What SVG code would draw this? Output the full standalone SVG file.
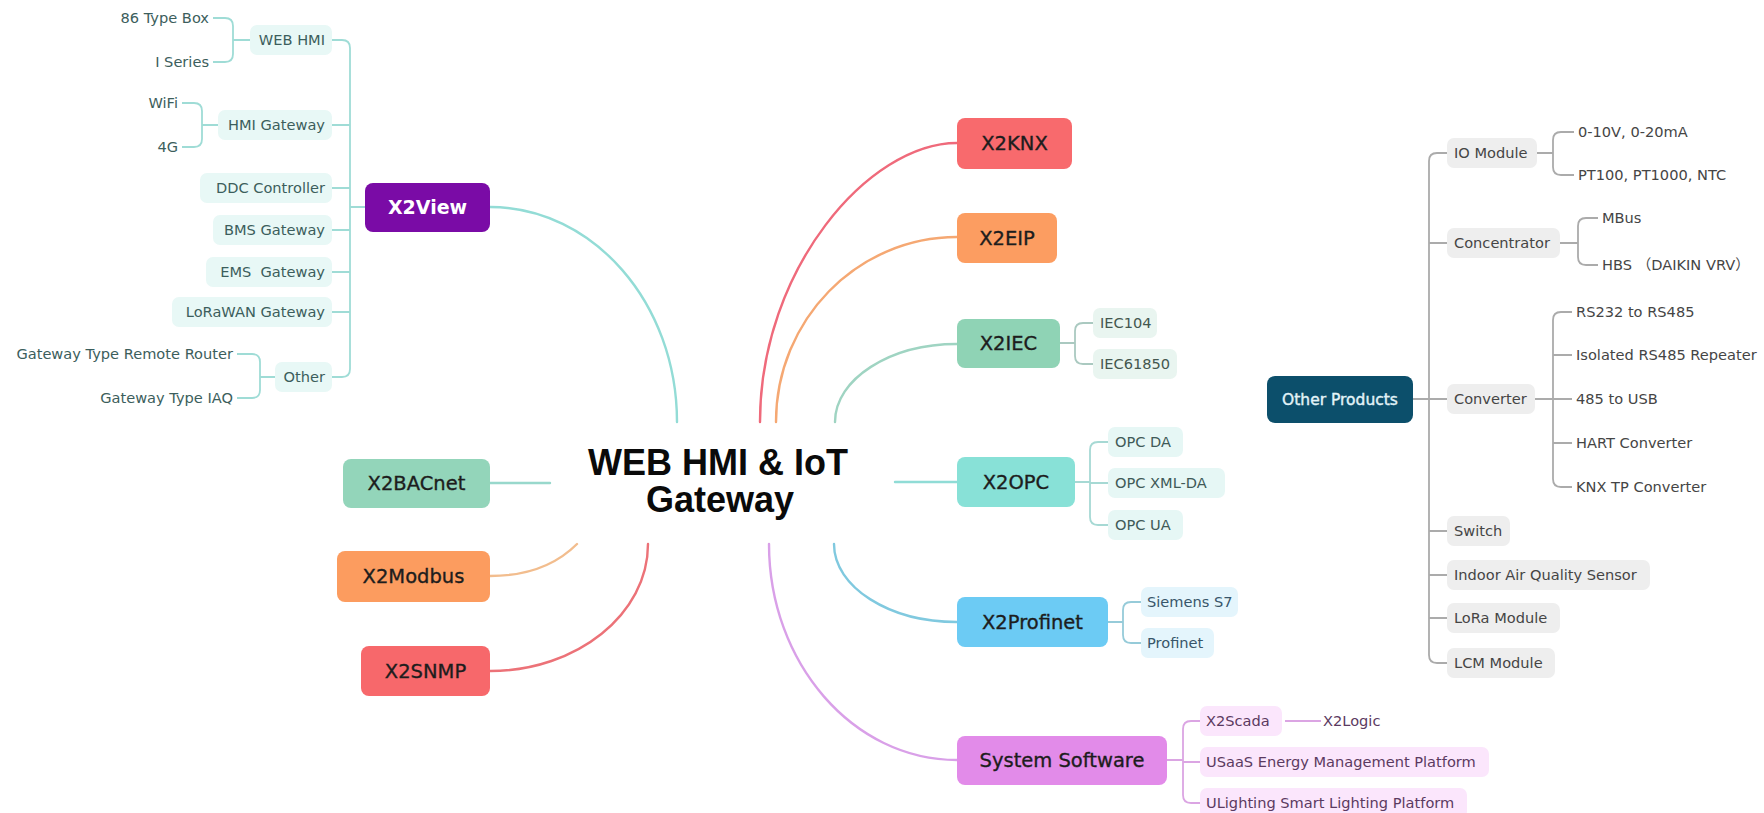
<svg xmlns="http://www.w3.org/2000/svg" width="1764" height="813" viewBox="0 0 1764 813">
<style>
text{font-family:"DejaVu Sans","Noto Sans CJK SC",sans-serif;}
.t{font-size:19.5px;fill:#1d1d1d;stroke:#1d1d1d;stroke-width:0.35;text-anchor:middle;}
.s{font-size:14.6px;white-space:pre;}
.c{fill:none;stroke-width:2.4;stroke-linecap:round;}
.b{fill:none;stroke-width:1.8;stroke-linejoin:round;}
.title{font-family:"Liberation Sans",Arial,sans-serif;font-weight:bold;font-size:36px;fill:#0a0a0a;text-anchor:middle;}
.vw rect{fill:#e8f8f6;} .vw text{fill:#3c5e5c;}
.ie rect{fill:#e9f5f0;} .ie text{fill:#44574f;}
.op rect{fill:#e6f7f5;} .op text{fill:#405a58;}
.pf rect{fill:#e4f5fc;} .pf text{fill:#38566a;}
.ss rect{fill:#fbe6fc;} .ss text{fill:#5b3a61;}
.ot rect{fill:#eeeeee;} .ot text{fill:#454545;}
</style>

<g id="connectors">
  <path class="c" stroke="#93dcd6" d="M490,207 C593,207 677,303 677,422"/>
  <path class="c" stroke="#ef6a7b" d="M760,422 C760,269 869,143 957,143"/>
  <path class="c" stroke="#f5a873" d="M776,422 C776,320 857,237 957,237"/>
  <path class="c" stroke="#9fd4c2" d="M835,422 C835,379 890,344 957,344"/>
  <path class="c" stroke="#90dcd6" d="M895,482 H957"/>
  <path class="c" stroke="#80c9df" d="M834,544 C834,587 889,622 957,622"/>
  <path class="c" stroke="#d9a0e8" d="M769,544 C769,663 853,760 957,760"/>
  <path class="c" stroke="#98d8cc" d="M490,483 H550"/>
  <path class="c" stroke="#f2bd8e" d="M490,576 Q545,576 577,544"/>
  <path class="c" stroke="#ec7278" d="M490,671 C577,671 648,614 648,544"/>

  <g stroke="#9fdcd6" class="b">
    <path d="M332,40 H342 Q350,40 350,48 V369 Q350,377 342,377 H332"/>
    <path d="M332,125 H350 M332,188 H350 M332,230 H350 M332,272 H350 M332,312 H350 M350,207 H365"/>
    <path d="M213,18 H225 Q233,18 233,26 V54 Q233,62 225,62 H213 M233,40 H250"/>
    <path d="M182,103 H194 Q202,103 202,111 V139 Q202,147 194,147 H182 M202,125 H218"/>
    <path d="M237,354 H252 Q260,354 260,362 V390 Q260,398 252,398 H237 M260,377 H275"/>
  </g>
  <g stroke="#aac9c0" class="b">
    <path d="M1060,343 H1075 M1093,323 H1083 Q1075,323 1075,331 V356 Q1075,364 1083,364 H1093"/>
  </g>
  <g stroke="#a6d9d4" class="b">
    <path d="M1075,482 H1090 M1108,442 H1098 Q1090,442 1090,450 V517 Q1090,525 1098,525 H1108 M1090,483 H1108"/>
  </g>
  <g stroke="#96cbd9" class="b">
    <path d="M1108,622 H1123 M1141,602 H1131 Q1123,602 1123,610 V635 Q1123,643 1131,643 H1141"/>
  </g>
  <g stroke="#dba5e3" class="b">
    <path d="M1167,760 H1183 M1200,721 H1191 Q1183,721 1183,729 V795 Q1183,803 1191,803 H1200 M1183,762 H1200 M1285,721 H1321"/>
  </g>
  <g stroke="#ababab" class="b">
    <path d="M1447,153 H1437 Q1429,153 1429,161 V655 Q1429,663 1437,663 H1447"/>
    <path d="M1429,243 H1447 M1429,531 H1447 M1429,575 H1447 M1429,618 H1447 M1413,399 H1447"/>
    <path d="M1537,153 H1553 M1574,132 H1561 Q1553,132 1553,140 V167 Q1553,175 1561,175 H1574"/>
    <path d="M1560,243 H1578 M1598,218 H1586 Q1578,218 1578,226 V257 Q1578,265 1586,265 H1598"/>
    <path d="M1535,399 H1553 M1572,312 H1561 Q1553,312 1553,320 V479 Q1553,487 1561,487 H1572 M1553,355 H1572 M1553,399 H1572 M1553,443 H1572"/>
  </g>
</g>

<g id="center">
  <text class="title" x="718" y="475">WEB HMI &amp; IoT</text>
  <text class="title" x="720" y="512">Gateway</text>
</g>

<g id="x2view">
  <rect x="365" y="183" width="125" height="49" rx="8" fill="#7a0ba6"/>
  <text x="427.5" y="214" font-size="19px" font-weight="bold" fill="#ffffff" text-anchor="middle">X2View</text>
</g>
<g id="x2view-children" class="vw">
  <g id="webhmi"><rect x="250" y="25" width="82" height="30" rx="7"/><text class="s" x="325" y="45" text-anchor="end">WEB HMI</text></g>
  <g id="hmigw"><rect x="218" y="110" width="114" height="30" rx="7"/><text class="s" x="325" y="130" text-anchor="end">HMI Gateway</text></g>
  <g id="ddc"><rect x="200" y="173" width="132" height="30" rx="7"/><text class="s" x="325" y="193" text-anchor="end">DDC Controller</text></g>
  <g id="bms"><rect x="213" y="215" width="119" height="30" rx="7"/><text class="s" x="325" y="235" text-anchor="end">BMS Gateway</text></g>
  <g id="ems"><rect x="206" y="257" width="126" height="30" rx="7"/><text class="s" x="325" y="277" text-anchor="end">EMS  Gateway</text></g>
  <g id="lorawan"><rect x="172" y="297" width="160" height="30" rx="7"/><text class="s" x="325" y="317" text-anchor="end">LoRaWAN Gateway</text></g>
  <g id="other"><rect x="275" y="362" width="57" height="30" rx="7"/><text class="s" x="325" y="382" text-anchor="end">Other</text></g>
  <g id="t86"><text class="s" x="209" y="23" text-anchor="end">86 Type Box</text></g>
  <g id="iseries"><text class="s" x="209" y="67" text-anchor="end">I Series</text></g>
  <g id="wifi"><text class="s" x="178" y="108" text-anchor="end">WiFi</text></g>
  <g id="g4"><text class="s" x="178" y="152" text-anchor="end">4G</text></g>
  <g id="gtrr"><text class="s" x="233" y="359" text-anchor="end">Gateway Type Remote Router</text></g>
  <g id="gtiaq"><text class="s" x="233" y="403" text-anchor="end">Gateway Type IAQ</text></g>
</g>

<g id="x2bacnet"><rect x="343" y="459" width="147" height="49" rx="8" fill="#93d5ba"/><text class="t" x="416.5" y="490">X2BACnet</text></g>
<g id="x2modbus"><rect x="337" y="551" width="153" height="51" rx="8" fill="#fc9c5f"/><text class="t" x="413.5" y="583">X2Modbus</text></g>
<g id="x2snmp"><rect x="361" y="646" width="129" height="50" rx="8" fill="#f7686b"/><text class="t" x="425.5" y="678">X2SNMP</text></g>

<g id="x2knx"><rect x="957" y="118" width="115" height="51" rx="8" fill="#f86a6d"/><text class="t" x="1014.5" y="150">X2KNX</text></g>
<g id="x2eip"><rect x="957" y="213" width="100" height="50" rx="8" fill="#fc9d61"/><text class="t" x="1007" y="245">X2EIP</text></g>
<g id="x2iec"><rect x="957" y="319" width="103" height="49" rx="8" fill="#8fd3b5"/><text class="t" x="1008.5" y="350">X2IEC</text></g>
<g id="x2iec-children" class="ie">
  <g id="iec104"><rect x="1093" y="308" width="64" height="30" rx="7"/><text class="s" x="1100" y="328">IEC104</text></g>
  <g id="iec61850"><rect x="1093" y="349" width="84" height="30" rx="7"/><text class="s" x="1100" y="369">IEC61850</text></g>
</g>
<g id="x2opc"><rect x="957" y="457" width="118" height="50" rx="8" fill="#88e1d7"/><text class="t" x="1016" y="489">X2OPC</text></g>
<g id="x2opc-children" class="op">
  <g id="opcda"><rect x="1108" y="427" width="75" height="30" rx="7"/><text class="s" x="1115" y="447">OPC DA</text></g>
  <g id="opcxml"><rect x="1108" y="468" width="117" height="30" rx="7"/><text class="s" x="1115" y="488">OPC XML-DA</text></g>
  <g id="opcua"><rect x="1108" y="510" width="75" height="30" rx="7"/><text class="s" x="1115" y="530">OPC UA</text></g>
</g>
<g id="x2profinet"><rect x="957" y="597" width="151" height="50" rx="8" fill="#6ccbf4"/><text class="t" x="1032.5" y="629">X2Profinet</text></g>
<g id="x2profinet-children" class="pf">
  <g id="s7"><rect x="1141" y="587" width="97" height="30" rx="7"/><text class="s" x="1147" y="607">Siemens S7</text></g>
  <g id="profinet"><rect x="1141" y="628" width="73" height="30" rx="7"/><text class="s" x="1147" y="648">Profinet</text></g>
</g>
<g id="syssw"><rect x="957" y="736" width="210" height="49" rx="8" fill="#e28be9"/><text class="t" x="1062" y="767">System Software</text></g>
<g id="syssw-children" class="ss">
  <g id="x2scada"><rect x="1200" y="706" width="82" height="30" rx="7"/><text class="s" x="1206" y="726">X2Scada</text></g>
  <g id="x2logic"><text class="s" x="1323" y="726">X2Logic</text></g>
  <g id="usaas"><rect x="1200" y="747" width="289" height="30" rx="7"/><text class="s" x="1206" y="767">USaaS Energy Management Platform</text></g>
  <g id="ulighting"><rect x="1200" y="788" width="267" height="30" rx="7"/><text class="s" x="1206" y="808">ULighting Smart Lighting Platform</text></g>
</g>

<g id="otherproducts"><rect x="1267" y="376" width="146" height="47" rx="8" fill="#0c4f6b"/><text x="1340" y="405" font-size="15.5px" fill="#e3f4f8" stroke="#e3f4f8" stroke-width="0.4" text-anchor="middle">Other Products</text></g>
<g id="other-children" class="ot">
  <g id="io"><rect x="1447" y="138" width="90" height="30" rx="7"/><text class="s" x="1454" y="158">IO Module</text></g>
  <g id="conc"><rect x="1447" y="228" width="113" height="30" rx="7"/><text class="s" x="1454" y="248">Concentrator</text></g>
  <g id="conv"><rect x="1447" y="384" width="88" height="30" rx="7"/><text class="s" x="1454" y="404">Converter</text></g>
  <g id="switch"><rect x="1447" y="516" width="63" height="30" rx="7"/><text class="s" x="1454" y="536">Switch</text></g>
  <g id="iaq"><rect x="1447" y="560" width="203" height="30" rx="7"/><text class="s" x="1454" y="580">Indoor Air Quality Sensor</text></g>
  <g id="lora"><rect x="1447" y="603" width="113" height="30" rx="7"/><text class="s" x="1454" y="623">LoRa Module</text></g>
  <g id="lcm"><rect x="1447" y="648" width="108" height="30" rx="7"/><text class="s" x="1454" y="668">LCM Module</text></g>
  <g id="v010"><text class="s" x="1578" y="137">0-10V, 0-20mA</text></g>
  <g id="pt100"><text class="s" x="1578" y="180">PT100, PT1000, NTC</text></g>
  <g id="mbus"><text class="s" x="1602" y="223">MBus</text></g>
  <g id="hbs"><text class="s" x="1602" y="270">HBS （DAIKIN VRV）</text></g>
  <g id="rs232"><text class="s" x="1576" y="317">RS232 to RS485</text></g>
  <g id="isorep"><text class="s" x="1576" y="360">Isolated RS485 Repeater</text></g>
  <g id="usb"><text class="s" x="1576" y="404">485 to USB</text></g>
  <g id="hart"><text class="s" x="1576" y="448">HART Converter</text></g>
  <g id="knxtp"><text class="s" x="1576" y="492">KNX TP Converter</text></g>
</g>
</svg>
